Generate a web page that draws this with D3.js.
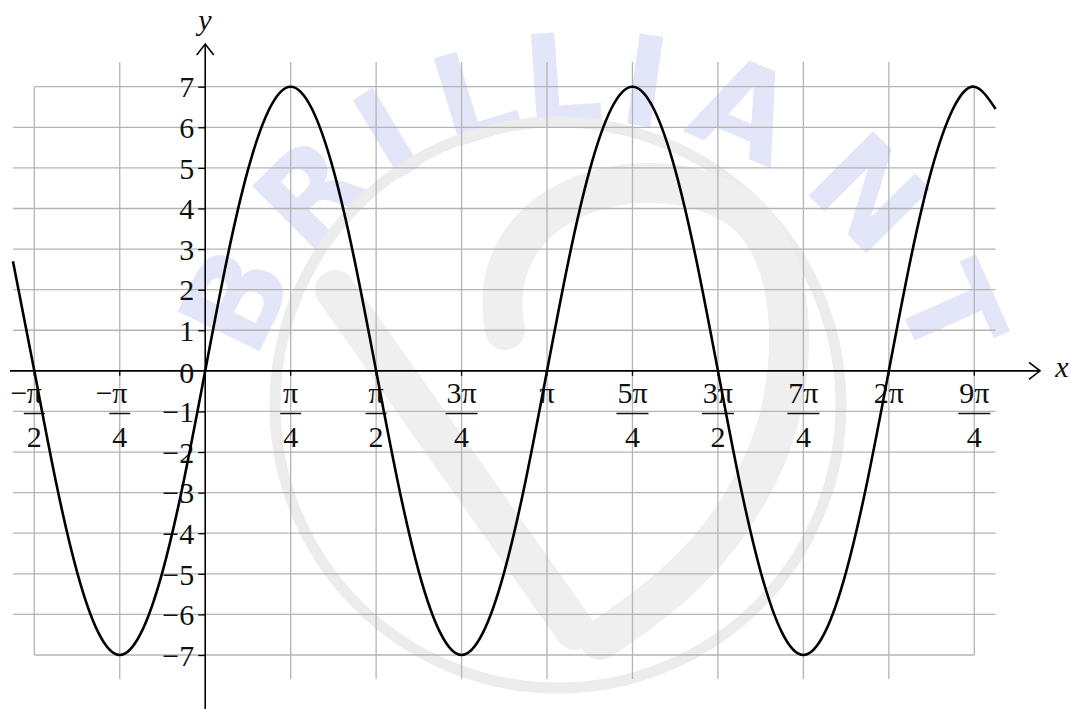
<!DOCTYPE html>
<html>
<head>
<meta charset="utf-8">
<script src="https://cdn.jsdelivr.net/npm/d3@7"></script>
<style>
  html, body { margin: 0; padding: 0; background: #ffffff; }
  svg { display: block; }
</style>
</head>
<body>
<svg id="chart" width="1070" height="709"></svg>
<script>
// ---------- data ----------
// x tick positions, in multiples of pi
const xTickValues = [-0.5, -0.25, 0.25, 0.5, 0.75, 1, 1.25, 1.5, 1.75, 2, 2.25];
const xTickNumerators = ["−π", "−π", "π", "π", "3π", "π", "5π", "3π", "7π", "2π", "9π"];
const xTickDenominators = ["2", "4", "4", "2", "4", "", "4", "2", "4", "", "4"];
// y ticks
const yTickValues = [-7, -6, -5, -4, -3, -2, -1, 1, 2, 3, 4, 5, 6, 7];
const yTickLabels = ["−7", "−6", "−5", "−4", "−3", "−2", "−1", "1", "2", "3", "4", "5", "6", "7"];
// curve samples: x in multiples of pi/16, y
const curveX16 = [-9, -8, -7, -6, -5, -4, -3, -2, -1, 0, 1, 2, 3, 4, 5, 6, 7, 8, 9, 10,
  11, 12, 13, 14, 15, 16, 17, 18, 19, 20, 21, 22, 23, 24, 25, 26, 27, 28, 29, 30,
  31, 32, 33, 34, 35, 36, 37];
const curveY = [2.7, 0, -2.7, -4.95, -6.45, -7, -6.45, -4.95, -2.7, 0, 2.7, 4.95, 6.45, 7, 6.45, 4.95, 2.7, 0, -2.7, -4.95,
  -6.45, -7, -6.45, -4.95, -2.7, 0, 2.7, 4.95, 6.45, 7, 6.45, 4.95, 2.7, 0, -2.7, -4.95,
  -6.45, -7, -6.45, -4.95, -2.7, 0, 2.7, 4.95, 6.45, 7, 6.45];
const watermarkLetters = ["B", "R", "I", "L", "L", "I", "A", "N", "T"];

// ---------- layout ----------
const SERIF = "'Liberation Serif', 'Times New Roman', serif";
const FS = 30;
const svg = d3.select("#chart");
const x = d3.scaleLinear().domain([-0.5, 2.25]).range([34.3, 974.3]);
const y = d3.scaleLinear().domain([-7, 7]).range([655, 86.7]);
const x0 = x(0), y0 = y(0);
const gridColor = "#b4b4b4";

// ---------- watermark (faint, underneath) ----------
const wm = svg.append("g").attr("class", "watermark");
const wmAngles = [-154, -135, -121, -107, -94, -82, -67, -45, -24];
const wcx = 590, wcy = 472, wr = 395;
watermarkLetters.forEach((ch, i) => {
  const a = wmAngles[i] * Math.PI / 180;
  const px = wcx + wr * Math.cos(a), py = wcy + wr * Math.sin(a);
  wm.append("text")
    .attr("transform", `translate(${px},${py}) rotate(${wmAngles[i] + 90})`)
    .attr("text-anchor", "middle").attr("dy", "0.36em")
    .style("font-family", "'DejaVu Sans', sans-serif").style("font-weight", "bold")
    .style("font-size", "125px").attr("fill", "#e3e6f8")
    .text(ch);
});
wm.append("circle").attr("cx", 558).attr("cy", 405).attr("r", 283)
  .attr("fill", "none").attr("stroke", "#ececec").attr("stroke-width", 11);
wm.append("path")
  .attr("d", "M 505 330 C 480 200, 640 150, 735 205 C 805 250, 800 390, 760 470 C 720 555, 660 600, 600 640")
  .attr("fill", "none").attr("stroke", "#efefef").attr("stroke-width", 40).attr("stroke-linecap", "round");
wm.append("path")
  .attr("d", "M 335 290 L 575 630")
  .attr("fill", "none").attr("stroke", "#efefef").attr("stroke-width", 40).attr("stroke-linecap", "round");

// ---------- grid ----------
const grid = svg.append("g").attr("stroke", gridColor).attr("stroke-width", 1.3).attr("fill", "none");
yTickValues.forEach(v => {
  const full = Math.abs(v) < 7;
  grid.append("line")
    .attr("x1", full ? 13 : x(-0.5)).attr("x2", full ? 995.5 : x(2.25))
    .attr("y1", y(v)).attr("y2", y(v));
});
xTickValues.forEach(v => {
  const edge = (v === -0.5 || v === 2.25);
  grid.append("line")
    .attr("x1", x(v)).attr("x2", x(v))
    .attr("y1", edge ? y(7) : 62).attr("y2", edge ? y(-7) : 679);
});

// ---------- axes ----------
const axes = svg.append("g").attr("stroke", "#000").attr("stroke-width", 1.6).attr("fill", "none");
axes.append("line").attr("x1", 10).attr("x2", 1040).attr("y1", y0).attr("y2", y0);
axes.append("polyline").attr("points", `${1029},${y0 - 8.5} ${1040},${y0} ${1029},${y0 + 8.5}`);
axes.append("line").attr("x1", x0).attr("x2", x0).attr("y1", 44).attr("y2", 709);
axes.append("polyline").attr("points", `${x0 - 8.5},${55} ${x0},${44} ${x0 + 8.5},${55}`);

// y axis ticks + labels via d3.axisLeft
const yAxis = d3.axisLeft(y).tickValues(yTickValues).tickSize(7).tickPadding(4)
  .tickFormat((d, i) => yTickLabels[i]);
const yg = svg.append("g").attr("transform", `translate(${x0},0)`).call(yAxis);
yg.attr("font-family", null).attr("font-size", null);
yg.select(".domain").remove();
yg.selectAll(".tick line").attr("stroke", "#000").attr("stroke-width", 1.3);
yg.selectAll(".tick text")
  .style("font-family", SERIF).style("font-size", FS + "px").attr("fill", "#111")
  .attr("dy", "0.34em");

// "0" label
svg.append("text").attr("x", x0 - 11).attr("y", y0 + 12).attr("text-anchor", "end")
  .style("font-family", SERIF).style("font-size", FS + "px").attr("fill", "#111").text("0");

// x ticks with fraction labels
const xt = svg.append("g");
const lab = (sel) => sel.style("font-family", SERIF).style("font-size", FS + "px").attr("fill", "#111");
xTickValues.forEach((v, i) => {
  const px = x(v);
  xt.append("line").attr("x1", px).attr("x2", px).attr("y1", y0).attr("y2", y0 + 5)
    .attr("stroke", "#000").attr("stroke-width", 1.3);
  const num = xTickNumerators[i], den = xTickDenominators[i];
  if (den === "") {
    lab(xt.append("text").attr("x", px).attr("y", 403).attr("text-anchor", "middle")).text(num);
  } else {
    const neg = num.startsWith("−");
    const core = neg ? num.slice(1) : num;
    const barW = core.length > 1 ? 32 : 21;
    lab(xt.append("text").attr("x", px).attr("y", 403).attr("text-anchor", "middle")).text(core);
    if (neg) {
      lab(xt.append("text").attr("x", px - 7).attr("y", 403).attr("text-anchor", "end")).text("−");
    }
    xt.append("line").attr("x1", px - barW / 2).attr("x2", px + barW / 2)
      .attr("y1", 413.5).attr("y2", 413.5).attr("stroke", "#111").attr("stroke-width", 1.5);
    lab(xt.append("text").attr("x", px).attr("y", 447).attr("text-anchor", "middle")).text(den);
  }
});

// axis titles
lab(svg.append("text").attr("x", 205).attr("y", 30).attr("text-anchor", "middle"))
  .style("font-style", "italic").text("y");
lab(svg.append("text").attr("x", 1062).attr("y", 377).attr("text-anchor", "middle"))
  .style("font-style", "italic").text("x");

// ---------- curve ----------
const pts = curveX16.map((k, i) => [k / 16, curveY[i]]);
const line = d3.line().x(d => x(d[0])).y(d => y(d[1])).curve(d3.curveNatural);
svg.append("path").datum(pts).attr("d", line)
  .attr("fill", "none").attr("stroke", "#000").attr("stroke-width", 2.6);
</script>
</body>
</html>
